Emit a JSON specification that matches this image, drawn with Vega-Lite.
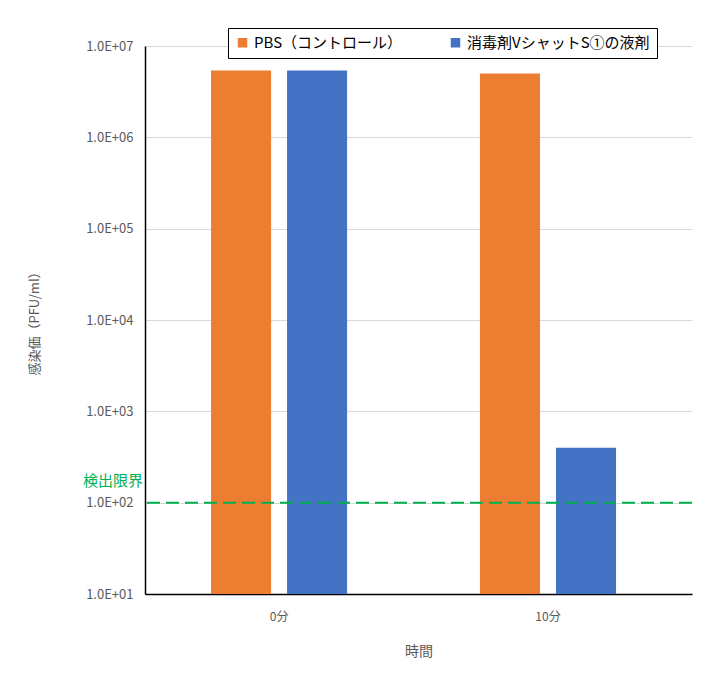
{
  "$schema": "https://vega.github.io/schema/vega-lite/v6.json",
  "width": 547,
  "height": 548,
  "autosize": {"type": "none"},
  "padding": {"left": 145, "top": 46, "right": 12, "bottom": 90},
  "background": "white",
  "config": {
    "font": "Noto Sans CJK JP",
    "view": {"stroke": null},
    "axis": {"labelColor": "#595959", "titleColor": "#595959", "labelFont": "Noto Sans CJK JP", "titleFont": "Noto Sans CJK JP", "titleFontWeight": "normal"}
  },
  "datasets": {
    "bars": [
      {"time": "0分", "group": "PBS（コントロール）", "value": 5400000},
      {"time": "0分", "group": "消毒剤VシャットS①の液剤", "value": 5400000},
      {"time": "10分", "group": "PBS（コントロール）", "value": 5000000},
      {"time": "10分", "group": "消毒剤VシャットS①の液剤", "value": 400}
    ],
    "limit": [{"value": 100, "label": "検出限界"}]
  },
  "layer": [
    {
      "data": {"name": "bars"},
      "mark": {"type": "bar"},
      "encoding": {
        "x": {
          "field": "time", "type": "nominal", "sort": ["0分", "10分"],
          "scale": {"paddingInner": 0.494, "paddingOuter": 0.264, "align": 0.465},
          "axis": {"title": "時間", "labelAngle": 0, "labelFontSize": 12, "titleFontSize": 14, "labelPadding": 17, "titlePadding": 22, "ticks": false, "domainColor": "#000000", "domainWidth": 1.5, "grid": false}
        },
        "xOffset": {"field": "group", "type": "nominal", "sort": ["PBS（コントロール）", "消毒剤VシャットS①の液剤"], "scale": {"paddingInner": 0.21, "paddingOuter": 0}},
        "y": {
          "field": "value", "type": "quantitative", "stack": null,
          "scale": {"type": "log", "domain": [10, 10000000]},
          "axis": {
            "title": "感染価（PFU/ml）", "titleFontSize": 13, "titlePadding": 44,
            "values": [10, 100, 1000, 10000, 100000, 1000000, 10000000],
            "labelExpr": "'1.0E+0' + round(log(datum.value)/log(10))",
            "labelFontSize": 13, "labelPadding": 12, "ticks": false,
            "domainColor": "#000000", "domainWidth": 1.5,
            "gridColor": "#d9d9d9", "gridWidth": 1
          }
        },
        "color": {
          "field": "group", "type": "nominal",
          "scale": {"domain": ["PBS（コントロール）", "消毒剤VシャットS①の液剤"], "range": ["#ED7D31", "#4472C4"]},
          "legend": {
            "title": null, "orient": "none", "direction": "horizontal",
            "legendX": 83, "legendY": -18,
            "symbolType": "square", "symbolSize": 90, "symbolStrokeWidth": 0,
            "labelFontSize": 15, "labelColor": "#000000", "labelLimit": 300,
            "columnPadding": 45,
            "fillColor": "white", "strokeColor": "#000000", "padding": 7
          }
        }
      }
    },
    {
      "data": {"name": "limit"},
      "mark": {"type": "rule", "color": "#00B050", "strokeWidth": 2, "strokeDash": [13, 6]},
      "encoding": {"y": {"field": "value", "type": "quantitative"}}
    },
    {
      "data": {"name": "limit"},
      "mark": {"type": "text", "color": "#00B050", "fontSize": 15, "align": "right", "baseline": "bottom", "dx": -2, "dy": -14},
      "encoding": {
        "y": {"field": "value", "type": "quantitative"},
        "x": {"value": 0},
        "text": {"field": "label"}
      }
    }
  ]
}
